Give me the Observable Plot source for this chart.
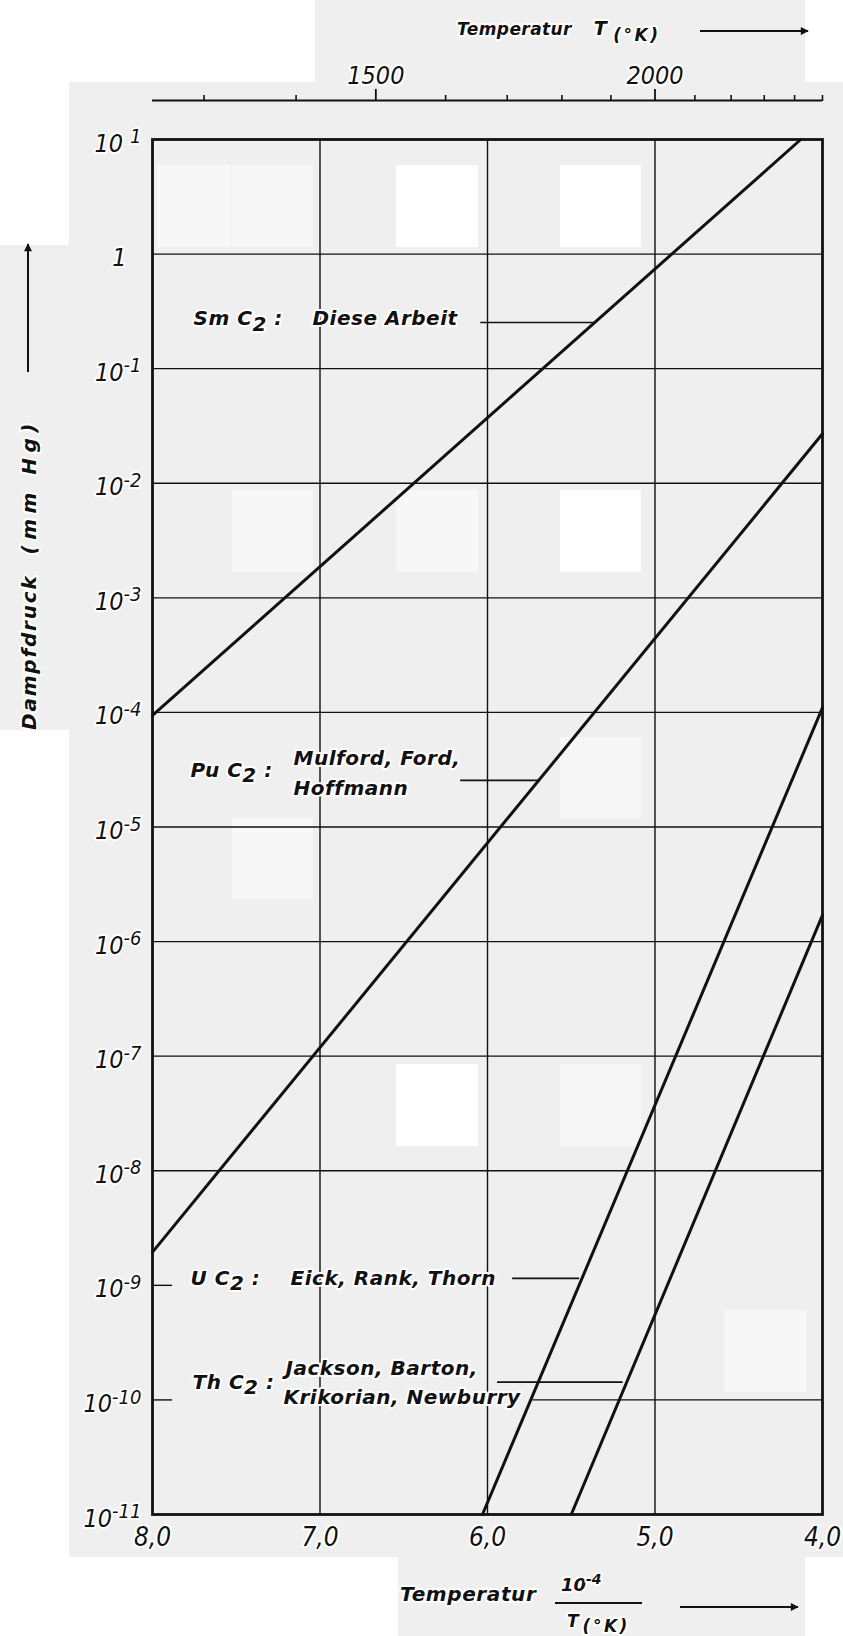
<!DOCTYPE html>
<html><head><meta charset="utf-8">
<script src="https://cdn.jsdelivr.net/npm/d3@7"></script>
<script src="https://cdn.jsdelivr.net/npm/@observablehq/plot@0.6"></script>
<style>
body{margin:0;background:#fff;}
#wrap{position:relative;width:843px;height:1636px;overflow:hidden;background:#fff;}
#wrap .g{position:absolute;background:#efefef;}
#wrap .w{position:absolute;background:#ffffff;}
#wrap .f{position:absolute;background:#f7f7f7;}
#wrap svg{position:absolute;left:0;top:0;}
#wrap svg text{stroke:#fff;stroke-width:4px;paint-order:stroke;stroke-linejoin:round;}
</style></head><body>
<div id="wrap">
  <div class="g" style="left:315px;top:0;width:490px;height:82px"></div>
  <div class="g" style="left:69px;top:82px;width:774px;height:1475px"></div>
  <div class="g" style="left:0;top:245px;width:69px;height:485px"></div>
  <div class="g" style="left:398px;top:1557px;width:407px;height:79px"></div>
  <div class="f" style="left:157px;top:165px;width:74px;height:82px"></div>
  <div class="f" style="left:232px;top:165px;width:81px;height:82px"></div>
  <div class="w" style="left:396px;top:165px;width:82px;height:82px"></div>
  <div class="w" style="left:560px;top:165px;width:81px;height:82px"></div>
  <div class="f" style="left:232px;top:490px;width:81px;height:82px"></div>
  <div class="f" style="left:396px;top:490px;width:82px;height:82px"></div>
  <div class="w" style="left:560px;top:490px;width:81px;height:82px"></div>
  <div class="f" style="left:560px;top:737px;width:81px;height:81px"></div>
  <div class="f" style="left:232px;top:818px;width:81px;height:81px"></div>
  <div class="w" style="left:396px;top:1064px;width:82px;height:82px"></div>
  <div class="f" style="left:560px;top:1064px;width:81px;height:82px"></div>
  <div class="f" style="left:724px;top:1310px;width:82px;height:82px"></div>
</div>
<script>
// ---------- data ----------
const decadeExponents = [1, 0, -1, -2, -3, -4, -5, -6, -7, -8, -9, -10, -11];
const fullGridExponents = [0, -1, -2, -3, -4, -5, -6, -7, -8];
const stubGridExponents = [-9, -10];
const xTickValues = [8.0, 7.0, 6.0, 5.0, 4.0];
const xGridValues = [7.0, 6.0, 5.0];
const tempMinorK = [1300, 1400, 1600, 1700, 1800, 1900, 2100, 2200, 2300, 2400, 2500];
const tempMajorK = [1500, 2000];

// reciprocal temperature (10^4 / T) and vapour pressure (mm Hg), line end points
const seriesNames = ["SmC2", "PuC2", "UC2", "ThC2"];
const smc2X = [8.0, 4.13],  smc2P = [9.4e-5, 10];
const puc2X = [8.0, 4.0],   puc2P = [1.95e-9, 2.7e-2];
const uc2X  = [6.03, 4.0],  uc2P  = [1e-11, 1.1e-4];
const thc2X = [5.50, 4.0],  thc2P = [1e-11, 1.7e-6];

// annotation texts
const labelText = ["Sm C2 :", "Diese Arbeit", "Pu C2 :", "Mulford, Ford,", "Hoffmann",
                   "U C2 :", "Eick, Rank, Thorn", "Th C2 :", "Jackson, Barton,", "Krikorian, Newburry"];
const labelX = [7.755, 7.045, 7.773, 7.158, 7.158, 7.773, 7.176, 7.761, 7.206, 7.218];
const labelP = [0.274, 0.274, 3.12e-5, 3.97e-5, 2.17e-5, 1.15e-9, 1.15e-9, 1.43e-10, 1.89e-10, 1.05e-10];
const leaderP  = [0.253, 2.55e-5, 1.15e-9, 1.43e-10];
const leaderX1 = [6.04, 6.16, 5.85, 5.94];
const leaderX2 = [5.36, 5.69, 5.45, 5.19];
const stubX = [8.0, 7.88];
const partGridP = [1e-10], partGridX = [5.73, 4.0];

// ---------- tables ----------
const seriesX = [smc2X, puc2X, uc2X, thc2X];
const seriesP = [smc2P, puc2P, uc2P, thc2P];
const rows = seriesNames.flatMap((name, i) => seriesX[i].map((x, j) => ({name, x, p: seriesP[i][j]})));
const labels = labelText.map((t, i) => ({t, x: labelX[i], p: labelP[i]}));
const leaders = leaderP.map((p, i) => ({p, x1: leaderX1[i], x2: leaderX2[i]}));
const stubs = stubGridExponents.map(e => ({p: 10 ** e, x1: stubX[0], x2: stubX[1]}));
const partGrid = partGridP.map(p => ({p, x1: partGridX[0], x2: partGridX[1]}));

const INK = "#111";
const FONT = "'DejaVu Sans Condensed', 'DejaVu Sans', sans-serif";
const LFONT = "'DejaVu Sans', sans-serif";
const W = 843, H = 1636;

const yFmt = v => { const e = Math.round(Math.log10(v)); return e === 0 ? "1" : "10^" + e; };
const xFmt = v => v.toFixed(1).replace(".", ",");

const main = Plot.plot({
  width: W, height: H,
  marginLeft: 152, marginRight: 21, marginTop: 139, marginBottom: 122,
  x: {domain: [8, 4]},
  y: {type: "log", domain: [1e-11, 10]},
  style: {background: "transparent", fontFamily: FONT, fontStyle: "italic", overflow: "visible", color: INK},
  marks: [
    Plot.ruleY(fullGridExponents.map(e => 10 ** e), {stroke: INK, strokeWidth: 1.4}),
    Plot.ruleY(stubs, {y: "p", x1: "x1", x2: "x2", stroke: INK, strokeWidth: 1.4}),
    Plot.ruleY(partGrid, {y: "p", x1: "x1", x2: "x2", stroke: INK, strokeWidth: 1.4}),
    Plot.ruleX(xGridValues, {stroke: INK, strokeWidth: 1.4}),
    Plot.ruleY(leaders, {y: "p", x1: "x1", x2: "x2", stroke: INK, strokeWidth: 1.6}),
    Plot.line(rows, {x: "x", y: "p", z: "name", stroke: INK, strokeWidth: 3}),
    Plot.frame({stroke: INK, strokeWidth: 2.8}),
    Plot.text(labels, {x: "x", y: "p", text: "t", textAnchor: "start", fontSize: 20, fontWeight: "bold", fontFamily: LFONT, fill: INK}),
    Plot.axisY(decadeExponents.map(e => 10 ** e), {tickSize: 0, tickPadding: 11, tickFormat: yFmt, fontSize: 25, dy: 4, label: null}),
    Plot.axisX(xTickValues, {anchor: "bottom", tickSize: 0, tickPadding: 13, tickFormat: xFmt, fontSize: 26, label: null})
  ]
});

const topAxis = Plot.plot({
  width: W, height: 139,
  marginLeft: 152, marginRight: 21, marginTop: 100, marginBottom: 38,
  x: {domain: [8, 4]},
  y: {domain: [0, 1], axis: null},
  style: {background: "transparent", fontFamily: FONT, fontStyle: "italic", overflow: "visible", color: INK},
  marks: [
    Plot.ruleY([1], {stroke: INK, strokeWidth: 2}),
    Plot.axisX(tempMinorK.map(T => 1e4 / T), {anchor: "top", tickSize: 6, tickFormat: () => "", strokeWidth: 1.6, label: null}),
    Plot.axisX(tempMajorK.map(T => 1e4 / T), {anchor: "top", tickSize: 12, tickPadding: 5, tickFormat: u => String(Math.round(1e4 / u)), fontSize: 25, strokeWidth: 1.8, label: null})
  ]
});

const wrap = document.getElementById("wrap");
wrap.appendChild(main);
wrap.appendChild(topAxis);

// ---------- rich text (superscripts / subscripts) ----------
const NS = "http://www.w3.org/2000/svg";
function tspan(parent, txt, attrs) {
  const t = document.createElementNS(NS, "tspan");
  t.textContent = txt;
  for (const k in attrs) t.setAttribute(k, attrs[k]);
  parent.appendChild(t);
  return t;
}
d3.select(main).selectAll("text").each(function () {
  const s = this.textContent;
  if (s === "1") { this.setAttribute("dx", "-15"); return; }
  if (s.includes("^")) {
    const [b, e] = s.split("^");
    this.textContent = "";
    tspan(this, b, {});
    tspan(this, e, {dy: "-0.42em", "font-size": "0.8em", dx: e === "1" ? "0.35em" : "0"});
  } else if (s.includes("C2")) {
    const [a, c] = s.split("C2");
    this.textContent = "";
    tspan(this, a + "C", {});
    tspan(this, "2", {dy: "0.28em"});
    tspan(this, c, {dy: "-0.28em"});
  }
});
d3.select(main).selectAll("text").filter(function () { return this.getAttribute("font-weight") === "bold" || this.closest("g[font-weight='bold']"); })
  .attr("letter-spacing", 0.5);

// ---------- axis titles ----------
const svg = d3.select(main);
const defs = svg.append("defs");
defs.append("marker").attr("id", "ah").attr("viewBox", "0 0 10 10").attr("refX", 9).attr("refY", 5)
  .attr("markerWidth", 12).attr("markerHeight", 8).attr("markerUnits", "userSpaceOnUse").attr("orient", "auto")
  .append("path").attr("d", "M0,0L10,5L0,10Z").attr("fill", INK);
const title = svg.append("g").attr("fill", INK).attr("font-weight", "bold").attr("font-style", "italic")
  .attr("font-family", LFONT).attr("text-anchor", "start");

// top title
const tt = title.append("text").attr("x", 457).attr("y", 35).attr("font-size", 17).attr("letter-spacing", 0.4);
tt.append("tspan").text("Temperatur");
tt.append("tspan").attr("dx", 22).attr("font-size", 19).text("T");
tt.append("tspan").attr("dx", 6).attr("dy", 6).attr("font-size", 17).attr("letter-spacing", 2.5).text("(°K)");
title.append("line").attr("x1", 700).attr("x2", 808).attr("y1", 31).attr("y2", 31)
  .attr("stroke", INK).attr("stroke-width", 2).attr("marker-end", "url(#ah)");

// bottom title
title.append("text").attr("x", 400).attr("y", 1601).attr("font-size", 20).attr("letter-spacing", 0.6).text("Temperatur");
const num = title.append("text").attr("x", 561).attr("y", 1591).attr("font-size", 18);
num.append("tspan").text("10");
num.append("tspan").attr("dy", -7).attr("font-size", 14).text("-4");
title.append("line").attr("x1", 555).attr("x2", 642).attr("y1", 1603).attr("y2", 1603).attr("stroke", INK).attr("stroke-width", 2);
const den = title.append("text").attr("x", 567).attr("y", 1627).attr("font-size", 17);
den.append("tspan").text("T");
den.append("tspan").attr("dx", 4).attr("dy", 5).attr("font-size", 17).attr("letter-spacing", 2.5).text("(°K)");
title.append("line").attr("x1", 680).attr("x2", 798).attr("y1", 1607).attr("y2", 1607)
  .attr("stroke", INK).attr("stroke-width", 2).attr("marker-end", "url(#ah)");

// y title
const yt = title.append("text").attr("transform", "translate(36,730) rotate(-90)").attr("font-size", 20).attr("letter-spacing", 1.8);
yt.append("tspan").text("Dampfdruck");
yt.append("tspan").attr("dx", 20).attr("letter-spacing", 5.5).text("(mm Hg)");
title.append("line").attr("x1", 28).attr("x2", 28).attr("y1", 372).attr("y2", 244)
  .attr("stroke", INK).attr("stroke-width", 2).attr("marker-end", "url(#ah)");
</script>
</body></html>
